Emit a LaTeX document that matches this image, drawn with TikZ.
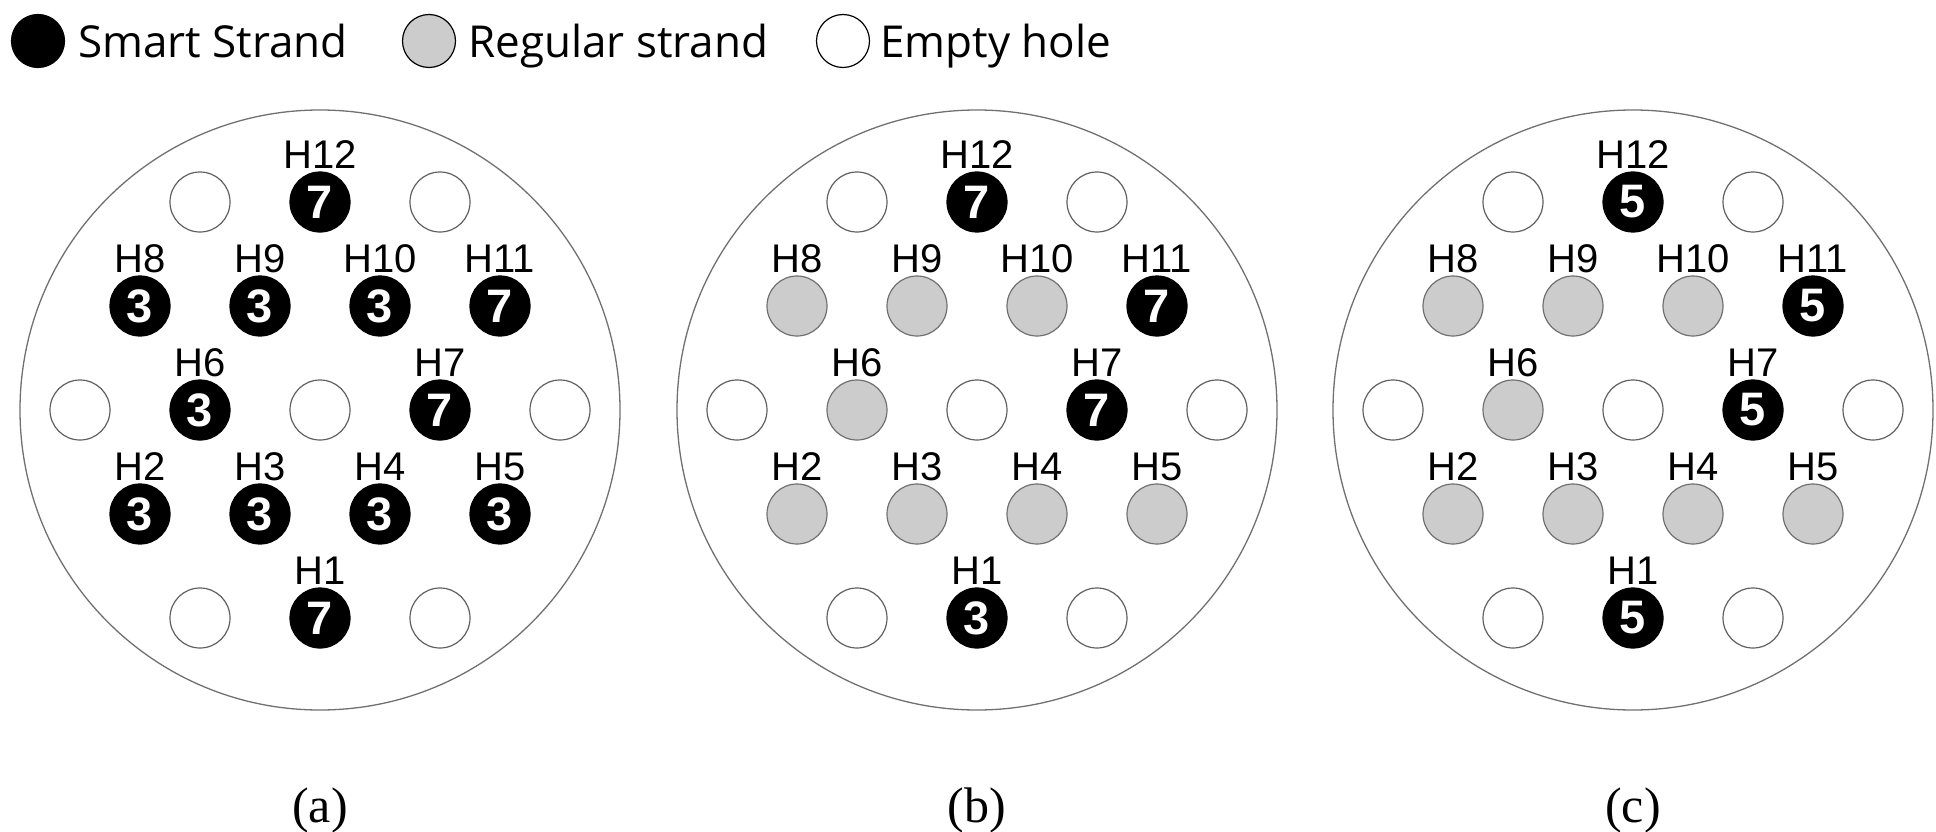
\documentclass[tikz,border=0pt]{standalone}
\usepackage{fontspec}
\setmainfont{Liberation Serif}
\setsansfont{Liberation Sans}
\newfontfamily\legendfont{Open Sans}
\definecolor{regfill}{HTML}{CCCCCC}
\definecolor{regdraw}{HTML}{707070}
\definecolor{holedraw}{HTML}{606060}
\definecolor{diskdraw}{HTML}{707070}
\newcommand\hlabfont{\sffamily\fontsize{40}{45}\selectfont}
\newcommand\hnumfont{\sffamily\bfseries\fontsize{47}{50}\selectfont}
\newcommand\legfont{\legendfont\fontsize{44}{50}\selectfont}
\newcommand\capfont{\rmfamily\fontsize{50}{56}\selectfont}
\tikzset{
  disk/.style={circle, draw=diskdraw, line width=1.3pt, minimum size=600pt, inner sep=0pt},
  hole/.style={circle, minimum size=60pt, inner sep=0pt, line width=1.2pt},
  smart/.style={hole, fill=black, draw=black, text=white, font=\hnumfont},
  regular/.style={hole, fill=regfill, draw=regdraw},
  emptyhole/.style={hole, fill=white, draw=holedraw},
  hlabel/.style={anchor=base, inner sep=0pt, font=\hlabfont},
  legcirc/.style={circle, minimum size=53pt, inner sep=0pt, line width=1.2pt},
  legtext/.style={anchor=base west, inner sep=0pt, font=\legfont},
  captext/.style={anchor=base, inner sep=0pt, font=\capfont}
}
\begin{document}
\begin{tikzpicture}[x=1pt, y=-1pt]
\useasboundingbox (0,0) rectangle (1936,832);
% legend
\node[legcirc, fill=black, draw=black] (legS) at (38,41) {};
\node[legtext] (legSt) at (78,58) {Smart Strand};
\node[legcirc, fill=regfill, draw=black] (legR) at (429,41) {};
\node[legtext] (legRt) at (468,58) {Regular strand};
\node[legcirc, fill=white, draw=black] (legE) at (843,41) {};
\node[legtext] (legEt) at (880,58) {Empty hole};
% panels
\foreach \p/\cx/\cap/\va/\vb/\vc/\vd/\sa/\tx in {
   a/320/(a)/7/7/7/7/smart/3,
   b/977/(b)/3/7/7/7/regular/{},
   c/1633/(c)/5/5/5/5/regular/{}}{
  \node[disk] (\p-disk) at (\cx,410) {};
  \node[captext] (\p-cap) at (\cx,822) {\cap};
  % empty holes
  \foreach \e/\dx/\dy in {1/-120/-208, 2/120/-208, 3/-240/0, 4/0/0, 5/240/0, 6/-120/208, 7/120/208}{
    \node[emptyhole] (\p-E\e) at (\cx+\dx,410+\dy) {};
  }
  % strands
  \foreach \n/\dx/\dy in {2/-180/104, 3/-60/104, 4/60/104, 5/180/104, 6/-120/0, 8/-180/-104, 9/-60/-104, 10/60/-104}{
    \node[\sa] (\p-H\n) at (\cx+\dx,410+\dy) {\tx};
    \node[hlabel] (\p-L\n) at (\cx+\dx,410+\dy-34) {H\n};
  }
  \node[smart] (\p-H1) at (\cx,618) {\va};
  \node[hlabel] (\p-L1) at (\cx,584) {H1};
  \node[smart] (\p-H7) at (\cx+120,410) {\vb};
  \node[hlabel] (\p-L7) at (\cx+120,376) {H7};
  \node[smart] (\p-H11) at (\cx+180,306) {\vc};
  \node[hlabel] (\p-L11) at (\cx+180,272) {H11};
  \node[smart] (\p-H12) at (\cx,202) {\vd};
  \node[hlabel] (\p-L12) at (\cx,168) {H12};
}
\end{tikzpicture}
\end{document}
